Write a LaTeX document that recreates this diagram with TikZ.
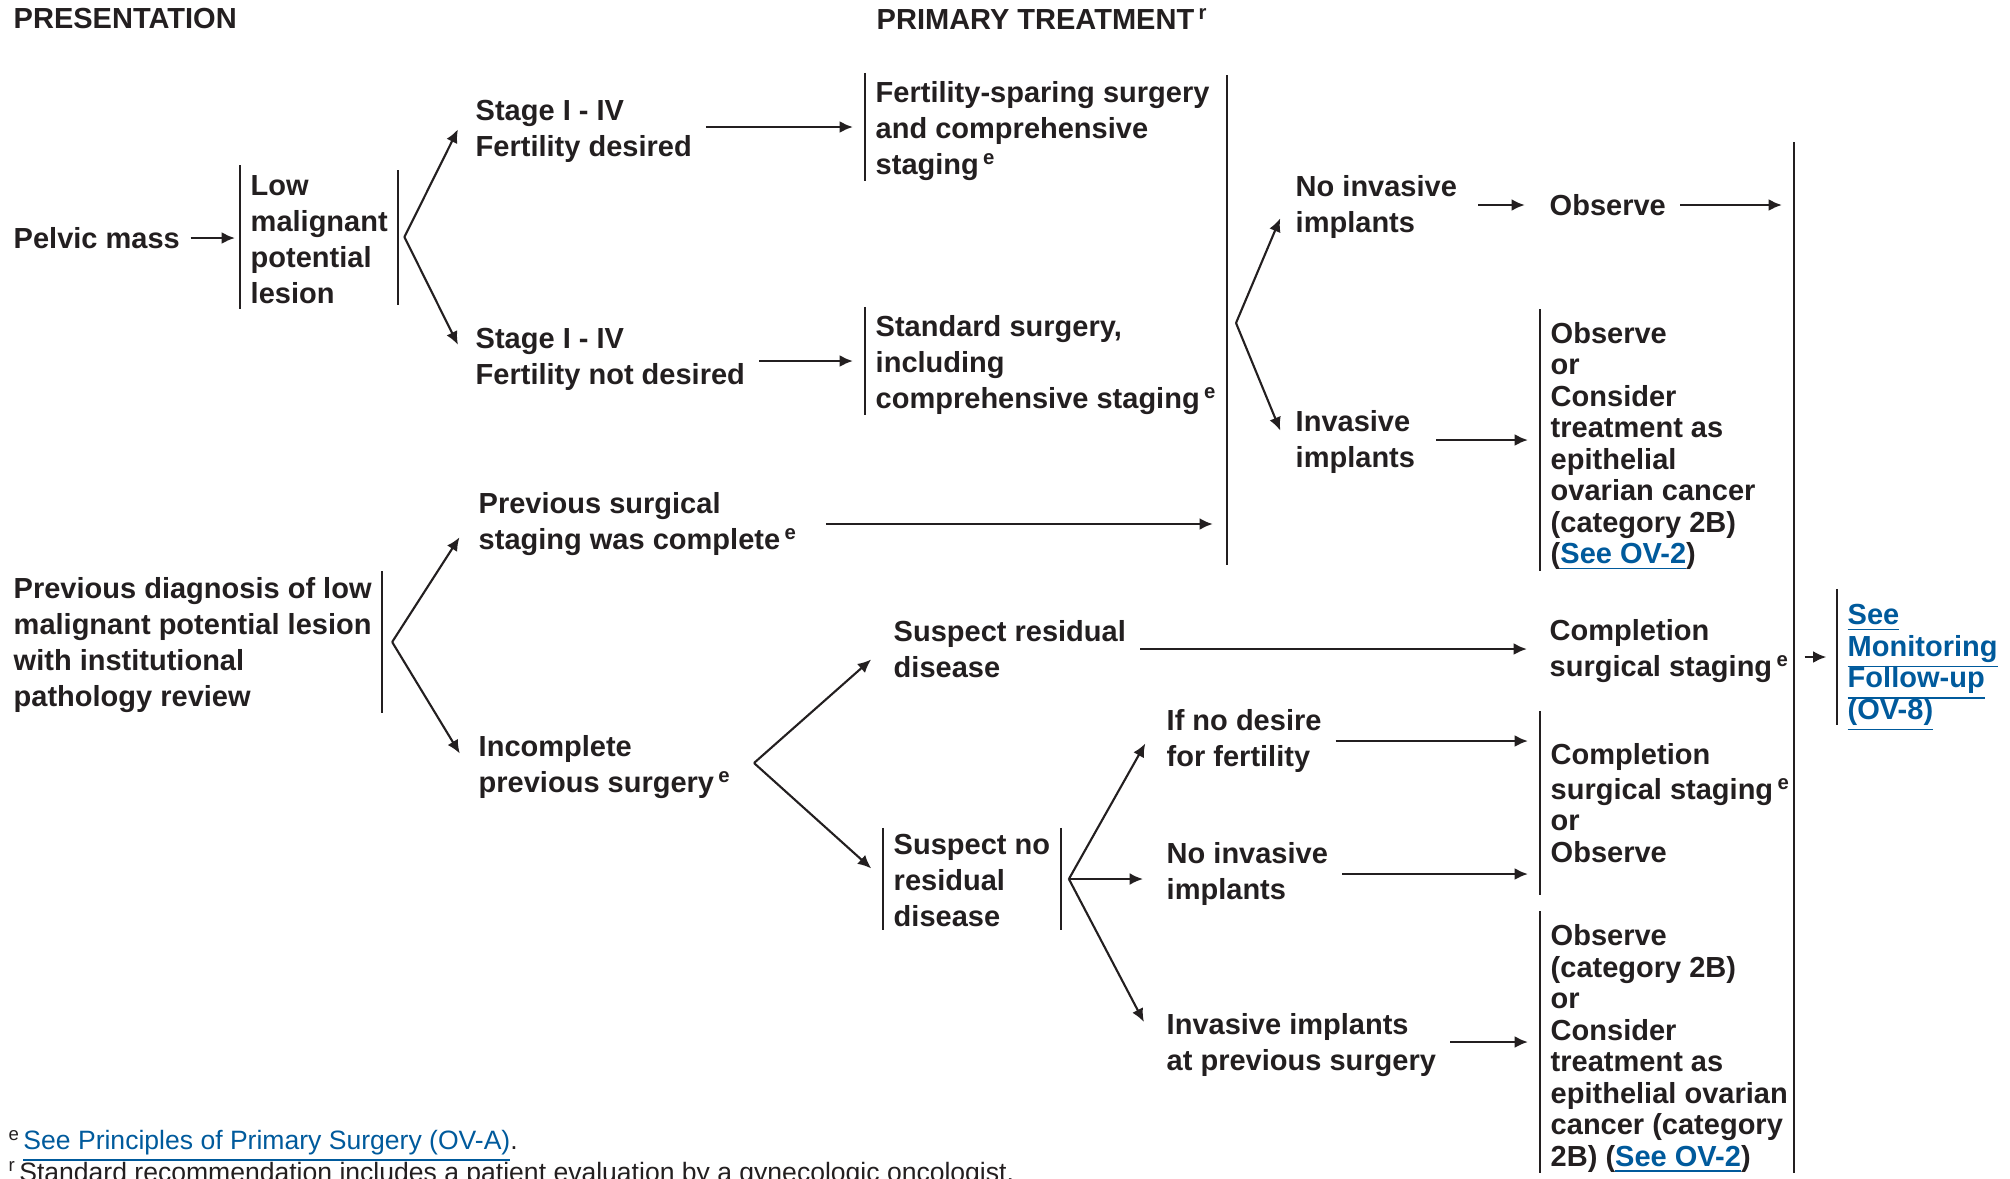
\documentclass[tikz,border=0pt]{standalone}
\usepackage{amsmath}
\usepackage{fontspec}
\setmainfont{Liberation Sans}
\usepackage{xcolor}
\usepackage{tikz}
\usetikzlibrary{arrows.meta}

\definecolor{ink}{HTML}{231F20}
\definecolor{linkblue}{HTML}{005A9C}
\newcommand{\flowfont}{\fontsize{8.25}{10.24}\selectfont\bfseries}
\newcommand{\colfont}{\fontsize{8.25}{8.96}\selectfont\bfseries}
\newcommand{\notefont}{\fontsize{7.55}{9}\selectfont}
\newcommand{\seelink}[1]{\textcolor{linkblue}{\smash[b]{\underline{#1}}}}
\newcommand{\fnmark}[1]{\hspace{0.15em}\textsuperscript{#1}}

\begin{document}
\begin{tikzpicture}[
  x=0.01cm, y=-0.01cm,
  every node/.style={anchor=west, align=left, inner xsep=0.1cm, inner ysep=0pt, font=\flowfont, text=ink},
  col/.style={font=\colfont},
  bar/.style={draw=ink, line width=0.6pt},
  go/.style={->, draw=ink, line width=0.8pt, shorten <=1pt, shorten >=3.4pt},
  fork/.style={->, draw=ink, line width=0.6pt, shorten >=4.5pt},
  >={Latex[length=3.8pt,width=3.4pt]}
]
\useasboundingbox (0,0) rectangle (2010,1178);

% headings
\node (hpres) at (3,19) {PRESENTATION};
\node (hprim) at (866,19) {PRIMARY TREATMENT\fnmark{r}};

% pelvic mass
\node (pelvic) at (3,238) {Pelvic mass};
\node[minimum height=1.42cm] (lowmp) at (240,237) {\rule{0pt}{7.4pt}Low\\malignant\\potential\\lesion};
\coordinate (b1) at ([xshift=1.7pt]lowmp.east);
\node (stageA) at (465,131) {Stage I - IV\\Fertility desired};
\node (stageB) at (465,359) {Stage I - IV\\Fertility not desired};
\node[minimum height=1.03cm] (fs) at (865,127) {\rule{0pt}{8.1pt}Fertility-sparing surgery\\and comprehensive\\staging\fnmark{e}};
\node[minimum height=1.06cm] (std) at (865,361) {\rule{0pt}{8.1pt}Standard surgery,\\including\\comprehensive staging\fnmark{e}};

% previous diagnosis
\node[minimum height=1.37cm] (prevdx) at (3,642) {\rule{0pt}{7.5pt}Previous diagnosis of low\\malignant potential lesion\\with institutional\\pathology review};
\coordinate (b3) at ([xshift=2.8pt]prevdx.east);
\node (prevok) at (468,524) {Previous surgical\\staging was complete\fnmark{e}};
\node (incomp) at (468,767) {Incomplete\\previous surgery\fnmark{e}};
\coordinate (b4) at (754,763);
\node (sres) at (883,649) {Suspect residual\\disease};
\node[minimum height=1.01cm] (sno) at (883,879) {\rule{0pt}{6.6pt}Suspect no\\residual\\disease};
\coordinate (b5) at ([xshift=2.3pt]sno.east);
\node (ifno) at (1156,741) {If no desire\\for fertility};
\node (noinv2) at (1156,874) {No invasive\\implants};
\node (invprev) at (1156,1045) {Invasive implants\\at previous surgery};

% after staging
\coordinate (colAtop) at (1227,75);
\coordinate (colAbot) at (1227,565);
\coordinate (b2) at (1236,323);
\node (noinv1) at (1285,207) {No invasive\\implants};
\node (inv1) at (1285,442) {Invasive\\implants};
\node (obs0) at (1539,205) {Observe};
\node[col, minimum height=2.6cm] (obs1) at (1540,440) {\rule{0pt}{9.4pt}Observe\\or\\Consider\\treatment as\\epithelial\\ovarian cancer\\(category 2B)\\(\seelink{See OV-2})};
\node (compl1) at (1539,651) {Completion\\surgical staging\fnmark{e}};
\node[col, minimum height=1.83cm] (obs2) at (1540,803) {Completion\\[1pt]surgical staging\fnmark{e}\\or\\Observe};
\node[col, minimum height=2.52cm] (obs3) at (1540,1042) {\rule{0pt}{9.6pt}Observe\\(category 2B)\\or\\Consider\\treatment as\\epithelial ovarian\\cancer (category\\2B) (\seelink{See OV-2})};
\coordinate (colBtop) at (1794,142);
\coordinate (colBbot) at (1794,1173);
\node[col, minimum height=1.35cm, text=linkblue] (seemon) at (1837,657) {\rule{0pt}{8.4pt}\seelink{See}\\\seelink{Monitoring}\\\seelink{Follow-up}\\\seelink{(OV-8)}};

% footnotes
\node[font=\notefont, inner xsep=0.08cm] (fne) at (0,1140) {\textsuperscript{e}\hspace{0.1em}\seelink{See Principles of Primary Surgery (OV-A)}.};
\node[font=\notefont, inner xsep=0.08cm] (fnr) at (0,1174) {\textsuperscript{r}\hspace{0.1em}Standard recommendation includes a patient evaluation by a gynecologic oncologist.};

% brackets
\draw[bar] (lowmp.north west) -- (lowmp.south west);
\draw[bar, shorten <=1.4pt, shorten >=1.1pt] (lowmp.north east) -- (lowmp.south east);
\draw[bar] (fs.north west) -- (fs.south west);
\draw[bar] (std.north west) -- (std.south west);
\draw[bar] (prevdx.north east) -- (prevdx.south east);
\draw[bar] (sno.north west) -- (sno.south west);
\draw[bar] (sno.north east) -- (sno.south east);
\draw[bar] (obs1.north west) -- (obs1.south west);
\draw[bar] (obs2.north west) -- (obs2.south west);
\draw[bar] (obs3.north west) -- (obs3.south west);
\draw[bar] (seemon.north west) -- (seemon.south west);
\draw[bar, line width=0.7pt] (colAtop) -- (colAbot);
\draw[bar, line width=0.7pt] (colBtop) -- (colBbot);

% arrows
\draw[go, shorten <=0pt, shorten >=1.4pt] (pelvic.east) -- (pelvic.east -| lowmp.west);
\draw[fork] (b1) -- ([yshift=4.5pt]stageA.west);
\draw[fork] (b1) -- (stageB.west);
\draw[go] (fs.west -| stageA.east) -- (fs.west);
\draw[go] (std.west -| stageB.east) -- (std.west);
\draw[fork] (b3) -- (prevok.west);
\draw[fork] (b3) -- (incomp.west);
\draw[go, shorten <=5pt, shorten >=4pt] (prevok.east) -- (prevok.east -| colAtop);
\draw[fork, shorten >=3.5pt] (b2) -- (noinv1.west);
\draw[fork, shorten >=3.5pt] (b2) -- (inv1.west);
\draw[go, shorten <=3pt, shorten >=4pt] (obs0.west -| noinv1.east) -- (obs0.west);
\draw[go] (obs0.east) -- (obs0.east -| colBtop);
\draw[go, shorten <=3pt] (obs1.west -| inv1.east) -- (obs1.west);
\draw[fork] (b4) -- (sres.west);
\draw[fork] (b4) -- (sno.west);
\draw[go] (sres.east) -- (sres.east -| compl1.west);
\draw[fork, shorten >=6.2pt] (b5) -- ([yshift=4.7pt]ifno.west);
\draw[fork, shorten >=3.7pt] (b5) -- (b5 -| noinv2.west);
\draw[fork, shorten >=7.4pt] (b5) -- (invprev.west);
\draw[go] (ifno.east) -- (ifno.east -| obs2.west);
\draw[go] (noinv2.east) -- (noinv2.east -| obs2.west);
\draw[go] (obs3.west -| invprev.east) -- (obs3.west);
\draw[go, shorten <=3pt, shorten >=3pt] (seemon.west -| colBtop) -- (seemon.west);

\end{tikzpicture}
\end{document}
